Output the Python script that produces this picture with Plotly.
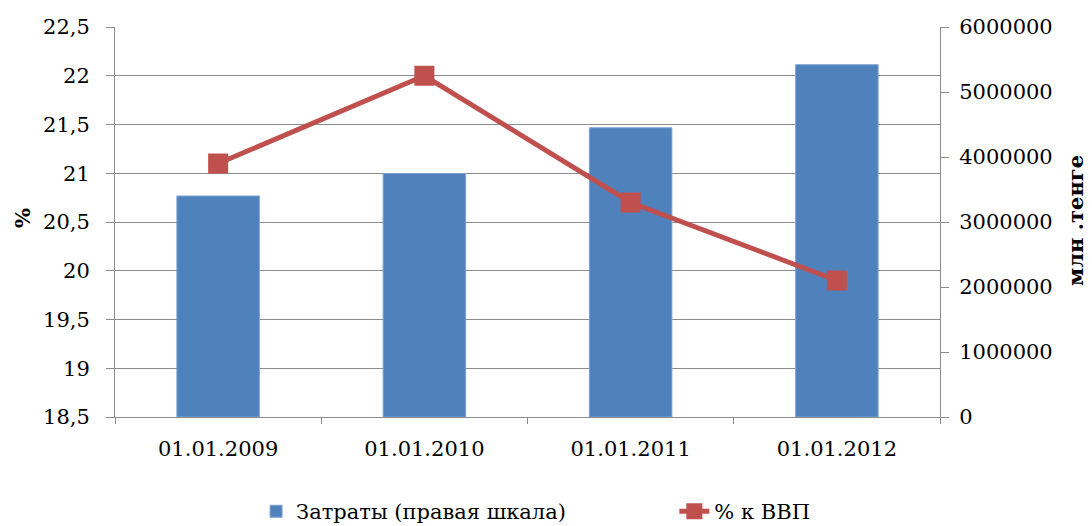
import plotly.graph_objects as go

categories = ["01.01.2009", "01.01.2010", "01.01.2011", "01.01.2012"]
costs = [3400000, 3745000, 4450000, 5420000]        # Затраты (правая шкала), млн тенге
pct_gdp = [21.1, 22.0, 20.7, 19.9]                  # % к ВВП

left_ticks = [18.5, 19, 19.5, 20, 20.5, 21, 21.5, 22, 22.5]
right_ticks = [0, 1000000, 2000000, 3000000, 4000000, 5000000, 6000000]

FONT = "DejaVu Serif"
GRID = "#8c8c8c"
FS = 21

fig = go.Figure()
fig.add_trace(go.Bar(
    x=categories, y=costs, name="Затраты (правая шкала)",
    marker=dict(color="#4F81BD", line=dict(color="#7fa3d1", width=1)),
    width=0.4, yaxis="y", legend="legend",
))
fig.add_trace(go.Scatter(
    x=categories, y=pct_gdp, name="% к ВВП", mode="lines+markers",
    line=dict(color="#C0504D", width=5),
    marker=dict(symbol="square", size=20, color="#C0504D"),
    yaxis="y2", legend="legend2",
))

# the page body adds an 8px offset, so the figure is 8px smaller than the window
fig.update_layout(
    width=1084, height=518,
    margin=dict(l=107, r=152, t=19, b=109, autoexpand=False),
    paper_bgcolor="white", plot_bgcolor="white",
    font=dict(family=FONT, size=FS, color="black"),
    separators=",.",
    showlegend=True,
    legend=dict(x=0.171, y=-0.19, xanchor="left", yanchor="top",
                font=dict(family=FONT, size=FS), bgcolor="rgba(0,0,0,0)"),
    legend2=dict(x=0.678, y=-0.19, xanchor="left", yanchor="top",
                 font=dict(family=FONT, size=FS), bgcolor="rgba(0,0,0,0)"),
    xaxis=dict(type="category", showline=True, linecolor=GRID, linewidth=1,
               ticks="outside", tickson="boundaries", ticklen=6, tickcolor=GRID,
               showgrid=False, tickfont=dict(family=FONT, size=FS), tickangle=0,
               automargin=False, ticklabelstandoff=13),
    # right axis (bars)
    yaxis=dict(range=[0, 6000000], tickvals=right_ticks, tickformat="d",
               side="right", showline=True, linecolor=GRID,
               linewidth=1, ticks="outside", ticklen=8, tickcolor=GRID,
               showgrid=False, zeroline=False, automargin=False,
               tickfont=dict(family=FONT, size=FS), ticklabelstandoff=6),
    # left axis (line)
    yaxis2=dict(range=[18.5, 22.5], tickvals=left_ticks, overlaying="y", side="left",
                showline=True, linecolor=GRID, automargin=False,
                linewidth=1, ticks="outside", ticklen=8, tickcolor=GRID,
                showgrid=True, gridcolor=GRID, gridwidth=1, zeroline=False,
                tickfont=dict(family=FONT, size=FS), ticklabelstandoff=12),
    annotations=[
        dict(text="<b>%</b>", xref="paper", yref="paper", x=-0.1127, y=0.51,
             xanchor="center", yanchor="middle",
             textangle=-90, showarrow=False, font=dict(family=FONT, size=FS)),
        dict(text="<b>млн .тенге</b>", xref="paper", yref="paper", x=1.1636, y=0.505,
             xanchor="center", yanchor="middle",
             textangle=-90, showarrow=False, font=dict(family=FONT, size=FS)),
    ],
)

fig.write_html("out.html")
